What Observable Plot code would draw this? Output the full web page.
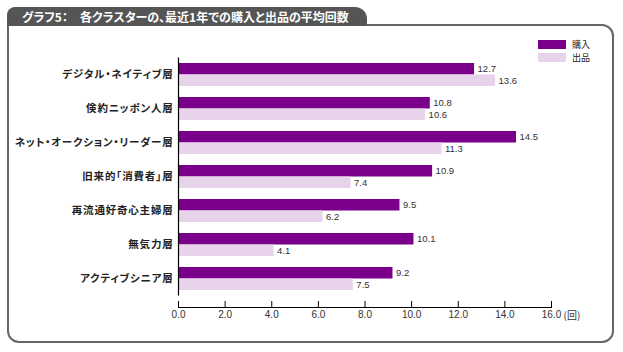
<!DOCTYPE html>
<html>
<head>
<meta charset="utf-8">
<script src="https://cdn.jsdelivr.net/npm/d3@7"></script>
<script src="https://cdn.jsdelivr.net/npm/@observablehq/plot@0.6"></script>
<style>
  html, body { margin: 0; padding: 0; background: #fff; }
  #wrap { position: relative; width: 623px; height: 352px; overflow: hidden; font-family: "Noto Sans CJK JP", sans-serif; }
  #chart { position: absolute; left: 0; top: 0; }
  #frame { position: absolute; left: 7px; top: 24px; width: 607px; height: 319px; box-sizing: border-box;
           border: 2px solid #666; border-radius: 0 12px 12px 12px; pointer-events: none; }
  #tab { position: absolute; left: 7px; top: 7px; width: 360px; height: 19px; background: #555;
         border-radius: 8px 12px 0 0; color: #fff; font-weight: bold; font-size: 12px; line-height: 19px;
         padding-left: 15px; box-sizing: border-box; white-space: nowrap; font-feature-settings: "palt"; }
  #legend { position: absolute; left: 538px; top: 40px; font-size: 9px; color: #222; }
  .item { display: flex; align-items: center; height: 9px; margin-bottom: 4px; }
  .item span { display: inline-block; height: 9px; line-height: 9px; }
  .sw { width: 28px; height: 9px; margin-right: 6px; }
  svg g[aria-label="y-axis tick label"] text { font-feature-settings: "palt"; letter-spacing: 0.8px; }
</style>
</head>
<body>
<div id="wrap">
  <div id="chart"></div>
  <div id="frame"></div>
  <div id="tab"></div>
  <div id="legend"></div>
</div>
<script>
const title = "グラフ5：　各クラスターの、最近1年での購入と出品の平均回数";
const categories = [
  "デジタル・ネイティブ層",
  "倹約ニッポン人層",
  "ネット・オークション・リーダー層",
  "旧来的「消費者」層",
  "再流通好奇心主婦層",
  "無気力層",
  "アクティブシニア層"
];
const seriesNames = ["購入", "出品"];
const purchase = [12.7, 10.8, 14.5, 10.9, 9.5, 10.1, 9.2];
const listing = [13.6, 10.6, 11.3, 7.4, 6.2, 4.1, 7.5];
const xTicks = [0, 2, 4, 6, 8, 10, 12, 14, 16];
const unitLabel = "(回)";
const colors = ["#7a008c", "#e8d4ea"];
const numFont = "'Liberation Sans', Arial, sans-serif";

const rows = categories.map((c, i) => ({category: c, purchase: purchase[i], listing: listing[i]}));

document.getElementById("tab").textContent = title;

const legend = document.getElementById("legend");
seriesNames.forEach((s, i) => {
  const item = document.createElement("div");
  item.className = "item";
  const sw = document.createElement("div");
  sw.className = "sw";
  sw.style.background = colors[i];
  const t = document.createElement("span");
  t.textContent = s;
  item.appendChild(sw); item.appendChild(t);
  legend.appendChild(item);
});

const chart = Plot.plot({
  width: 623,
  height: 352,
  marginLeft: 178,
  marginRight: 72,
  marginTop: 57.5,
  marginBottom: 56.5,
  style: {background: "transparent", fontFamily: "'Noto Sans CJK JP', sans-serif", color: "#222"},
  x: {domain: [0, 16]},
  y: {domain: categories, paddingInner: 11 / 34, paddingOuter: 11 / 68, align: 0.5},
  marks: [
    Plot.barX(rows, {x: "purchase", y: "category", fill: colors[0], insetBottom: 11.5}),
    Plot.barX(rows, {x: "listing", y: "category", fill: colors[1], insetTop: 11.5}),
    Plot.text(rows, {x: "purchase", y: "category", text: d => d.purchase.toFixed(1), dx: 3, dy: -5.75,
      textAnchor: "start", fontSize: 9.5, fill: "#333", fontFamily: numFont}),
    Plot.text(rows, {x: "listing", y: "category", text: d => d.listing.toFixed(1), dx: 3, dy: 5.75,
      textAnchor: "start", fontSize: 9.5, fill: "#333", fontFamily: numFont}),
    Plot.ruleX([0], {stroke: "#000", strokeWidth: 1.2}),
    Plot.axisY({tickSize: 0, tickPadding: 5, fontSize: 10.5, fontWeight: "bold", fill: "#222", label: null}),
    Plot.axisX({ticks: xTicks, tickFormat: d3.format(".1f"), tickSize: 6, tickPadding: 3, dy: 5.5,
      fontSize: 10, fill: "#333", stroke: "#000", label: null, fontFamily: numFont}),
    Plot.frame({anchor: "bottom", dy: 11.5, stroke: "#000"}),
    Plot.text([unitLabel], {frameAnchor: "bottom-right", text: d => d, dx: 12, dy: 22.5,
      textAnchor: "start", fontSize: 10, fill: "#333"})
  ]
});
document.getElementById("chart").appendChild(chart);
</script>
</body>
</html>
